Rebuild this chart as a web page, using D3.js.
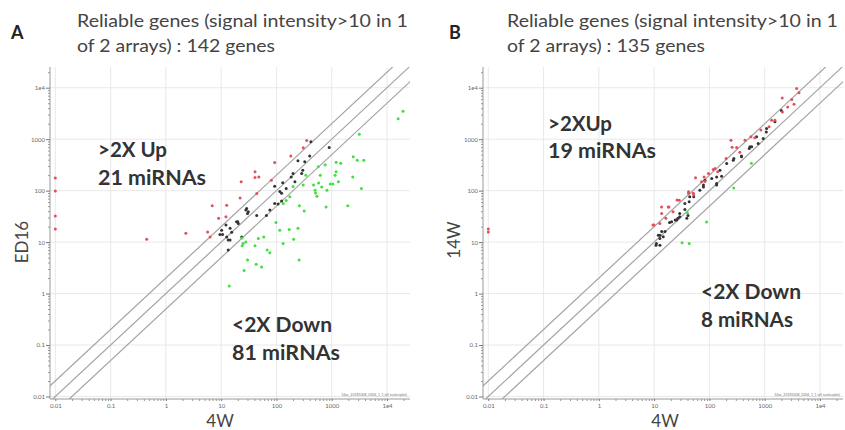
<!DOCTYPE html>
<html>
<head>
<meta charset="utf-8">
<script src="https://cdn.jsdelivr.net/npm/d3@7"></script>
<style>
  body { margin: 0; background: #fff; }
  text { font-family: Lato, "Open Sans", sans-serif; }
</style>
</head>
<body>
<div id="chart"></div>
<script>
// tick values and labels (log axes)
var majorTicks = [0.01, 0.1, 1, 10, 100, 1000, 10000];
var tickLabels = ["0.01", "0.1", "1", "10", "100", "1000", "1e4"];
var foldLines = [1, 2, 0.5];

// panel A : 4W (x) vs ED16 (y)
var redA = [[0.01,175],[0.01,98],[0.01,32],[0.01,18],[0.45,11.4],[2.3,14.8],[5.7,15.8],[6.9,51],[9,29],[12.6,52],
  [12.2,31],[22,72],[23,148],[41,232],[41,180],[48,185],[44,88],[93,352],[81,159],[182,470],[305,680],[353,945],[6.3,12.6]];
var blackA = [[9.5,14.1],[10.6,14.1],[12.2,21.6],[14.5,18.6],[15.5,15.5],[13.4,11],[14.5,11],[13.4,7],[19,24.8],[20.4,23],
  [28,42],[31,39],[23.5,12.6],[44,33],[66,33],[76,42],[107,55],[124,63],[420,890],[900,690],[400,470],[245,380],[325,365],
  [300,250],[286,216],[200,215],[185,185],[130,142],[93,122],[115,96],[124,89],[150,110],[216,148],[93,56],[29,45],[30,36],
  [20,24.8],[12.6,12.6],[10.2,17]];
var greenA = [[19500,3500],[15900,2500],[3160,1250],[2450,455],[2900,390],[3800,390],[1200,355],[1450,340],[2400,185],
  [1200,232],[1150,200],[760,320],[620,200],[940,134],[1050,134],[1320,148],[580,140],[470,128],[660,117],[3450,110],
  [500,102],[510,90],[540,78],[820,102],[305,128],[260,51],[790,48],[1950,51],[570,290],[340,200],[175,76],[150,64],
  [133,56],[318,40],[98,24],[115,17],[245,18.6],[205,11.3],[132,9.4],[76,6.2],[59,12.6],[47,11.7],[41,8.5],[25,9.4],
  [24,8.5],[30,4.5],[43,3.7],[54,3.3],[26,2.8],[257,4.5],[14,1.4],[24,12],[28,10],[68,7],[200,120],[170,17.5]];

// panel B : 4W (x) vs 14W (y)
var redB = [[0.01,18],[0.01,15.8],[3780,9660],[4170,7940],[2075,6300],[3090,5890],[3390,4790],[2600,4240],[2090,3390],
  [1530,2340],[1200,1740],[853,1500],[660,1070],[440,955],[245,955],[257,700],[310,690],[355,560],[200,420],[117,257],
  [141,232],[96,215],[56,178],[83,150],[42,89],[51,89],[26,66],[13.6,48],[18,48],[9.5,21.5],[12.7,23],[1330,2340],
  [563,1110],[126,270],[80,185],[72,148],[28.4,65],[18.5,48],[13.7,36],[22,39],[16.3,29],[9.9,21.4],[42,95],[52,82]];
var blackB = [[1070,1380],[525,660],[580,710],[762,826],[940,1030],[380,470],[277,422],[166,190],[135,185],[110,173],
  [78,117],[67,102],[52,76],[43,61],[36,43],[29,36],[24,27],[19,24],[15.7,16],[12.7,13.6],[11,9.4],[41,33],[39,29],
  [2000,3600],[1530,2170],[1080,1610],[713,1110],[540,710],[380,453],[270,391],[205,337],[155,250],[83,160],[135,128],
  [44,76],[36,56],[29,31],[25.5,27],[20.7,24.8],[13.7,16],[11.9,13.6],[14.6,12.7],[12.7,11.8],[10.8,8.7],[12.7,8.7],
  [27,29],[78,128],[135,138]];
var greenB = [[275,113],[575,340],[89,24.6],[32,9.7],[43,9.4],[40,37]];

var width = 845, height = 430;
var svg = d3.select("#chart").append("svg")
  .attr("width", width).attr("height", height);

function drawPanel(p) {
  var g = svg.append("g");
  var left = p.x0, right = p.x0 + 360, top = 67, bottom = 399;

  var x = d3.scaleLog().domain([0.01, 10000]).range([left + 5.3, left + 337]);
  var y = d3.scaleLog().domain([0.01, 10000]).range([396.5, 87.7]);

  var clipId = "clip" + p.id;
  svg.append("clipPath").attr("id", clipId)
    .append("rect").attr("x", left).attr("y", top)
    .attr("width", right - left).attr("height", bottom - top);

  // grid
  g.selectAll(".vg").data(majorTicks).enter().append("line")
    .attr("x1", d => x(d)).attr("x2", d => x(d))
    .attr("y1", top).attr("y2", bottom)
    .attr("stroke", "#e3e3e3").attr("stroke-width", 0.8);
  g.selectAll(".hg").data(majorTicks).enter().append("line")
    .attr("y1", d => y(d)).attr("y2", d => y(d))
    .attr("x1", left).attr("x2", right)
    .attr("stroke", "#e3e3e3").attr("stroke-width", 0.8);

  // fold-change lines
  var plot = g.append("g").attr("clip-path", "url(#" + clipId + ")");
  plot.selectAll(".fold").data(foldLines).enter().append("line")
    .attr("x1", d => x(0.001)).attr("y1", d => y(0.001 * d))
    .attr("x2", d => x(1e5)).attr("y2", d => y(1e5 * d))
    .attr("stroke", "#a4a4a4").attr("stroke-width", 1.2);

  // axes
  var minor = [];
  majorTicks.slice(0, -1).forEach(function(t) {
    for (var k = 2; k < 10; k++) minor.push(t * k);
  });
  minor.push(20000);
  var fmt = function(d) { var i = majorTicks.indexOf(d); return i >= 0 ? tickLabels[i] : ""; };

  var xAxis = d3.axisBottom(x).tickValues(majorTicks.concat(minor))
    .tickFormat(fmt).tickSize(2).tickPadding(3);
  var yAxis = d3.axisLeft(y).tickValues(majorTicks.concat(minor.filter(d => d < 30000)))
    .tickFormat(fmt).tickSize(2).tickPadding(3);

  var gx = g.append("g").attr("transform", "translate(0," + bottom + ")").call(xAxis);
  gx.select(".domain").attr("d", "M" + left + ",0H" + right).attr("stroke", "#999");
  var gy = g.append("g").attr("transform", "translate(" + left + ",0)").call(yAxis);
  gy.select(".domain").attr("d", "M0," + top + "V" + bottom).attr("stroke", "#999");
  [gx, gy].forEach(function(a) {
    a.selectAll(".tick line").attr("stroke", "#999");
    a.selectAll(".tick text").attr("font-size", 6).attr("fill", "#666");
    a.selectAll(".tick").filter(d => majorTicks.indexOf(d) >= 0).select("line").attr("stroke", "#777");
  });
  gy.selectAll(".tick").filter(d => majorTicks.indexOf(d) >= 0).select("line").attr("x2", -4);

  // points
  var groups = [[p.black, "#333333"], [p.green, "#3fe03f"], [p.red, "#e2505c"]];
  groups.forEach(function(gr) {
    plot.selectAll(null).data(gr[0]).enter().append("circle")
      .attr("cx", d => x(d[0])).attr("cy", d => y(d[1]))
      .attr("r", 1.5).attr("fill", gr[1]);
  });

  // tiny file tag at bottom right
  g.append("text").attr("x", right - 3).attr("y", bottom - 3)
    .attr("text-anchor", "end").attr("font-size", 3.5).attr("fill", "#777")
    .text(p.tag);

  // titles
  g.append("text").attr("x", p.letterX).attr("y", 39)
    .attr("font-size", 18).attr("font-weight", "bold").attr("fill", "#222")
    .text(p.letter);
  g.append("text").attr("x", p.titleX).attr("y", 27)
    .attr("font-size", 16.5).attr("fill", "#444")
    .attr("textLength", 331).attr("lengthAdjust", "spacingAndGlyphs")
    .text("Reliable genes (signal intensity>10 in 1");
  g.append("text").attr("x", p.titleX).attr("y", 52)
    .attr("font-size", 16.5).attr("fill", "#444")
    .attr("textLength", p.line2W).attr("lengthAdjust", "spacingAndGlyphs")
    .text(p.line2);

  // axis labels
  g.append("text").attr("x", p.xLabelX).attr("y", 427)
    .attr("text-anchor", "middle").attr("font-size", 17).attr("fill", "#444")
    .text("4W");
  g.append("text")
    .attr("transform", "translate(" + p.yLabelX + "," + p.yLabelY + ") rotate(-90)")
    .attr("text-anchor", "middle").attr("font-size", 17).attr("fill", "#444")
    .text(p.yLabel);

  // annotations
  p.notes.forEach(function(n) {
    g.append("text").attr("x", n[0]).attr("y", n[1])
      .attr("font-size", 20).attr("font-weight", "bold").attr("fill", "#333")
      .attr("textLength", n[3]).attr("lengthAdjust", "spacingAndGlyphs")
      .text(n[2]);
  });
}

drawPanel({
  id: "A", x0: 50, red: redA, black: blackA, green: greenA,
  letter: "A", letterX: 11, titleX: 77, line2: "of 2 arrays) : 142 genes", line2W: 198,
  xLabelX: 220, yLabel: "ED16", yLabelX: 28, yLabelY: 242,
  tag: "14ac_20181008_0206_1_1 (all scatterplot)",
  notes: [[98, 157, ">2X Up", 69], [98, 185, "21 miRNAs", 108], [232, 332, "<2X Down", 100], [232, 360, "81 miRNAs", 108]]
});
drawPanel({
  id: "B", x0: 483, red: redB, black: blackB, green: greenB,
  letter: "B", letterX: 449, titleX: 507, line2: "of 2 arrays) : 135 genes", line2W: 198,
  xLabelX: 665, yLabel: "14W", yLabelX: 460, yLabelY: 240,
  tag: "14ac_20181008_0206_1_1 (all scatterplot)",
  notes: [[548, 131, ">2XUp", 64], [548, 158, "19 miRNAs", 108], [701, 299, "<2X Down", 100], [701, 327, "8 miRNAs", 92]]
});
</script>
</body>
</html>
